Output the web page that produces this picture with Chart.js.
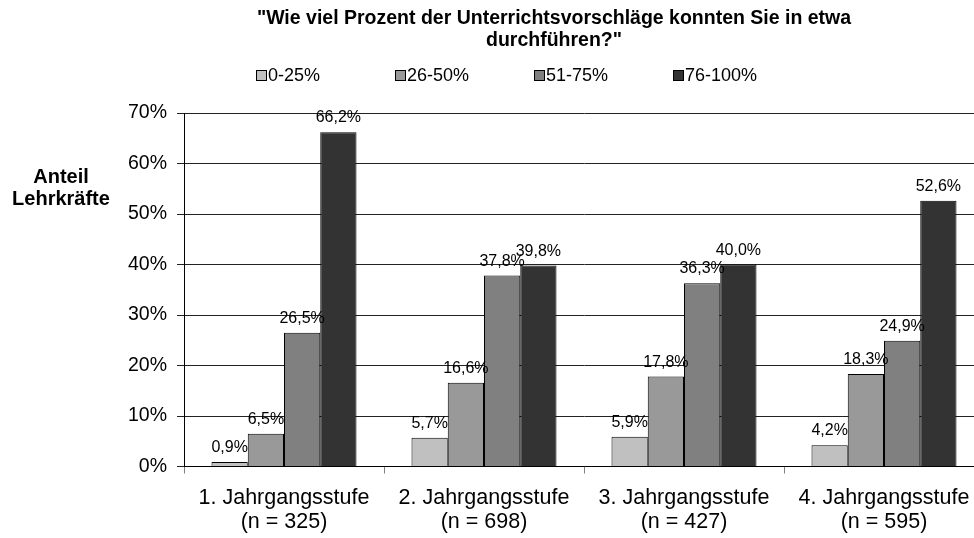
<!DOCTYPE html>
<html>
<head>
<meta charset="utf-8">
<script src="https://cdn.jsdelivr.net/npm/chart.js@4"></script>
<style>
  html, body { margin: 0; padding: 0; background: #fff; overflow: hidden; }
  #wrap { width: 984px; height: 538px; }
</style>
</head>
<body>
<div id="wrap"><canvas id="chart" width="984" height="538"></canvas></div>
<script>
const categories = [
  ["1. Jahrgangsstufe", "(n = 325)"],
  ["2. Jahrgangsstufe", "(n = 698)"],
  ["3. Jahrgangsstufe", "(n = 427)"],
  ["4. Jahrgangsstufe", "(n = 595)"]
];
const seriesNames = ["0-25%", "26-50%", "51-75%", "76-100%"];
const share0to25 = [0.9, 5.7, 5.9, 4.2];
const share26to50 = [6.5, 16.6, 17.8, 18.3];
const share51to75 = [26.5, 37.8, 36.3, 24.9];
const share76to100 = [66.2, 39.8, 40.0, 52.6];
const yMax = 70;
const yStep = 10;

const colors = ["#c0c0c0", "#999999", "#808080", "#333333"];
const FONT = "'Liberation Sans', Arial, sans-serif";
const titleLines = ['"Wie viel Prozent der Unterrichtsvorschläge konnten Sie in etwa', 'durchführen?"'];
const yTitleLines = ["Anteil", "Lehrkräfte"];

const fmt = v => v.toFixed(1).replace(".", ",") + "%";

// title, legend, axis title and value labels
const decorations = {
  id: "decorations",
  afterDraw(chart) {
    const ctx = chart.ctx;
    ctx.save();
    ctx.fillStyle = "#000";
    ctx.textAlign = "center";
    ctx.textBaseline = "middle";
    ctx.font = "bold 19.5px " + FONT;
    ctx.fillText(titleLines[0], 554, 19);
    ctx.fillText(titleLines[1], 554, 41);

    ctx.font = "bold 20px " + FONT;
    ctx.fillText(yTitleLines[0], 61, 177);
    ctx.fillText(yTitleLines[1], 61, 199);

    // legend
    ctx.font = "18px " + FONT;
    ctx.textAlign = "left";
    seriesNames.forEach((name, i) => {
      const x = 256 + i * 139;
      ctx.fillStyle = colors[i];
      ctx.fillRect(x + 0.5, 70.5, 10, 10);
      ctx.strokeStyle = "#000";
      ctx.lineWidth = 1;
      ctx.strokeRect(x + 0.5, 70.5, 10, 10);
      ctx.fillStyle = "#000";
      ctx.fillText(name, x + 12, 76);
    });

    // value labels
    ctx.font = "16px " + FONT;
    ctx.textAlign = "center";
    ctx.textBaseline = "alphabetic";
    chart.data.datasets.forEach((ds, i) => {
      chart.getDatasetMeta(i).data.forEach((bar, j) => {
        ctx.fillText(fmt(ds.data[j]), bar.x, bar.y - 10);
      });
    });
    ctx.restore();
  }
};

new Chart(document.getElementById("chart"), {
  type: "bar",
  data: {
    labels: categories,
    datasets: [
      { label: seriesNames[0], data: share0to25, backgroundColor: colors[0] },
      { label: seriesNames[1], data: share26to50, backgroundColor: colors[1] },
      { label: seriesNames[2], data: share51to75, backgroundColor: colors[2] },
      { label: seriesNames[3], data: share76to100, backgroundColor: colors[3] }
    ].map(d => Object.assign(d, {
      borderColor: "#000",
      borderWidth: 1,
      barPercentage: 1,
      categoryPercentage: 0.725
    }))
  },
  options: {
    responsive: false,
    animation: false,
    layout: { padding: { top: 113, left: 0, right: 0, bottom: 0 } },
    plugins: {
      legend: { display: false },
      title: { display: false },
      tooltip: { enabled: false }
    },
    scales: {
      x: {
        afterFit: s => { s.height = 71.5; },
        grid: { offset: true, drawOnChartArea: false, drawTicks: true, tickLength: 7, color: "#808080" },
        border: { color: "#000", width: 1 },
        ticks: {
          color: "#000",
          padding: 13,
          maxRotation: 0,
          font: { family: FONT, size: 21.5, lineHeight: "24px" }
        }
      },
      y: {
        min: 0,
        max: yMax,
        afterFit: s => { s.width = 184; },
        grid: { color: "#222", tickLength: 7, drawTicks: true },
        border: { color: "#000", width: 1 },
        ticks: {
          stepSize: yStep,
          color: "#000",
          padding: 10,
          font: { family: FONT, size: 19.5 },
          callback: v => v + "%"
        }
      }
    }
  },
  plugins: [decorations]
});
</script>
</body>
</html>
